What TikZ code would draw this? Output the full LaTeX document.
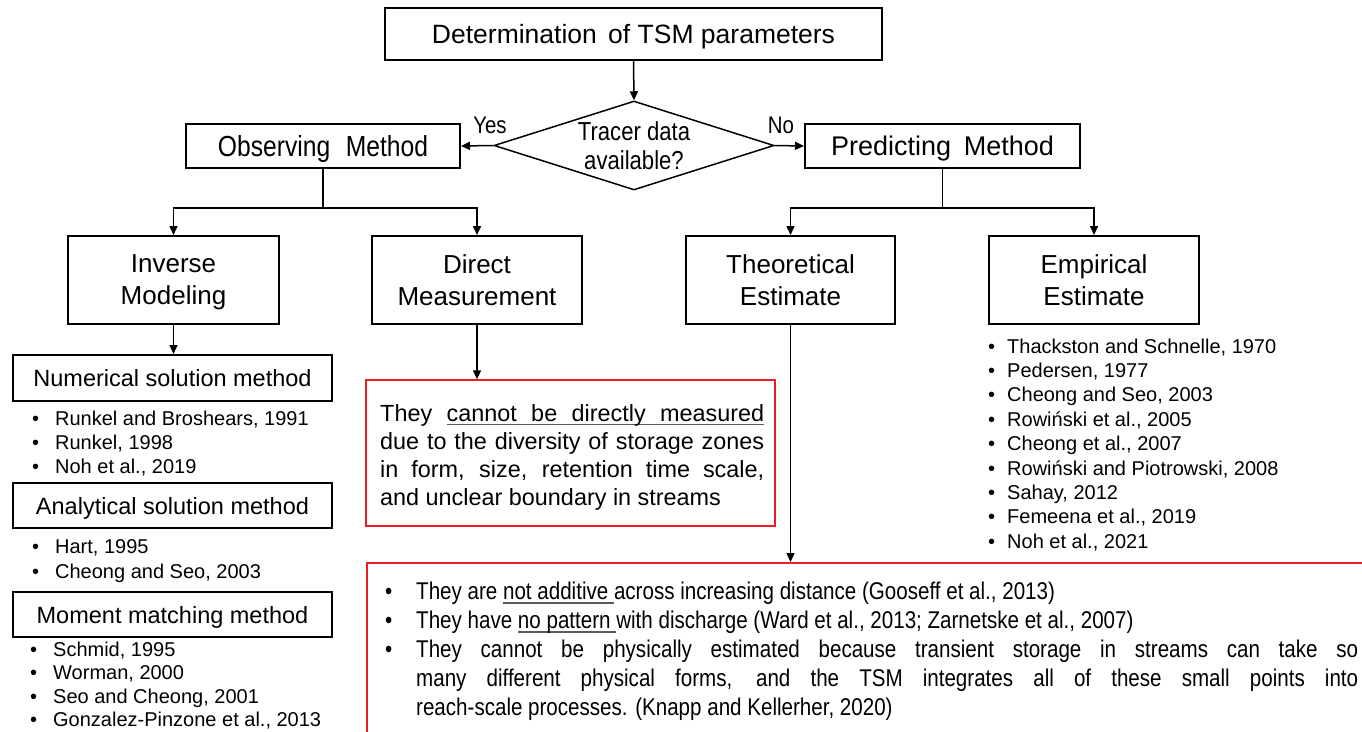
\documentclass[tikz,border=0pt]{standalone}
\usepackage{fontspec}
\setmainfont{Liberation Sans}
\newfontfamily\narrowfont[FakeStretch=0.85]{Liberation Sans}
\usetikzlibrary{arrows.meta,shapes.geometric}
\definecolor{boxred}{RGB}{236,28,36}
\definecolor{ulgray}{RGB}{90,90,90}
\newcommand{\fsz}[2]{\fontsize{#1}{#2}\selectfont}
\newcommand{\nd}[1]{\raisebox{0pt}[\height][0pt]{#1}}
\newsavebox{\myulbox}
\newcommand{\ulw}[1]{\sbox{\myulbox}{#1}\rlap{\color{ulgray}\vrule height -2.6pt depth 3.8pt width \wd\myulbox}\usebox{\myulbox}}
\newcommand{\uls}{{\color{ulgray}\leaders\hrule height -2.6pt depth 3.8pt\hskip\fontdimen2\font plus\fontdimen3\font minus\fontdimen4\font\relax}}

\begin{document}
\begin{tikzpicture}[x=1pt,y=-1pt,
  box/.style={draw, line width=2pt, inner sep=0pt, align=center},
  redbox/.style={draw=boxred, line width=1.5pt, inner sep=0pt},
  arr/.style={line width=1.5pt, -{Triangle[length=9pt,width=8pt]}},
  ln/.style={line width=1.5pt},
  item/.style={inner sep=0pt, anchor=base west, font=\fsz{20}{24}},
  lbl/.style={inner sep=0pt, font=\narrowfont\fsz{24}{28}},
]
\useasboundingbox (0,0) rectangle (1362,731);

% main boxes
\node[box, minimum width=497pt, minimum height=52pt, font=\fsz{26.5}{32}] (top) at (633.5,34) {\nd{Determination\hspace{0.15em} of TSM parameters}};
\node[draw, line width=1.5pt, diamond, minimum width=280pt, minimum height=89pt, inner sep=0pt] (dia) at (634,145.5) {};
\node[inner sep=0pt, align=center, font=\narrowfont\fsz{26}{29}] (diat) at (dia) {Tracer data\\available?};
\node[box, minimum width=274pt, minimum height=44pt, font=\narrowfont\fsz{29}{32}] (obs) at (323,146) {\nd{Observing\hspace{0.3em} Method}};
\node[box, minimum width=275pt, minimum height=44pt, font=\fsz{27}{32}] (pred) at (942.5,146) {\nd{Predicting\hspace{0.2em} Method}};
\node[lbl] (yes) at (490,125) {Yes};
\node[lbl] (no) at (781,125) {No};

\node[box, minimum width=211pt, minimum height=88pt, font=\fsz{26}{32}] (inv) at (173.5,280) {Inverse\\\nd{Modeling}};
\node[box, minimum width=210pt, minimum height=88pt, font=\fsz{26}{32}] (dir) at (477,280) {Direct\\Measurement};
\node[box, minimum width=209pt, minimum height=88pt, font=\fsz{26}{32}] (theo) at (790.5,280) {Theoretical\\Estimate};
\node[box, minimum width=210pt, minimum height=88pt, font=\fsz{26}{32}] (emp) at (1094,280) {Empirical\\Estimate};

% left method boxes
\node[box, minimum width=319pt, minimum height=46pt, font=\fsz{23.5}{28}] (num) at (172.5,378) {Numerical solution method};
\node[box, minimum width=319pt, minimum height=45pt, font=\fsz{23.5}{28}] (ana) at (172.5,505.5) {\nd{Analytical solution method}};
\node[box, minimum width=319pt, minimum height=45pt, font=\fsz{23.5}{28}] (mom) at (172.5,614.5) {\nd{Moment matching method}};

% lists
\foreach \t [count=\i] in {{Runkel and Broshears, 1991},{Runkel, 1998},{Noh et al., 2019}}
  \node[item] (nl\i) at (32,{425.2+(\i-1)*24}) {\makebox[23pt][l]{•}\t};
\foreach \t [count=\i] in {{Hart, 1995},{Cheong and Seo, 2003}}
  \node[item] (al\i) at (32,{553.2+(\i-1)*25}) {\makebox[23pt][l]{•}\t};
\foreach \t [count=\i] in {{Schmid, 1995},{Worman, 2000},{Seo and Cheong, 2001},{Gonzalez-Pinzone et al., 2013}}
  \node[item] (ml\i) at (30,{656.2+(\i-1)*23.5}) {\makebox[23pt][l]{•}\t};
\foreach \t [count=\i] in {{Thackston and Schnelle, 1970},{Pedersen, 1977},{Cheong and Seo, 2003},{Rowiński et al., 2005},{Cheong et al., 2007},{Rowiński and Piotrowski, 2008},{Sahay, 2012},{Femeena et al., 2019},{Noh et al., 2021}}
  \node[item] (el\i) at (988,{353.2+(\i-1)*24.375}) {\makebox[19pt][l]{•}\t};

% red boxes
\node[redbox, minimum width=409pt, minimum height=146pt] (red1) at (570.5,453) {};
\node[anchor=base west, inner sep=0pt, text width=384pt, align=justify, font=\fsz{23.4}{28}] (red1t) at (380,421.4)
  {They \ulw{cannot}\uls\ulw{be}\uls\ulw{directly}\uls\ulw{measured}\linebreak due to the diversity of storage zones\linebreak in form, size, retention time scale,\linebreak and unclear boundary in streams};

\node[redbox, anchor=north west, minimum width=1030pt, minimum height=200pt] (bot) at (366,562) {};
\node[anchor=base west, inner sep=0pt, text width=973pt, align=justify, font=\narrowfont\fsz{24.2}{29}] (bott) at (385,599.8)
  {\noindent\hangindent=31pt\hangafter=1\makebox[31pt][l]{•}They are \ulw{not}\uls\ulw{additive}\uls across increasing distance (Gooseff et al., 2013)\par
   \noindent\hangindent=31pt\hangafter=1\makebox[31pt][l]{•}They have \ulw{no}\uls\ulw{pattern}\uls with discharge (Ward et al., 2013; Zarnetske et al., 2007)\par
   \noindent\hangindent=31pt\hangafter=1\makebox[31pt][l]{•}They cannot be physically estimated because transient storage in streams can take so\linebreak many different physical forms, and the TSM integrates all of these small points into\linebreak reach-scale processes. (Knapp and Kellerher, 2020)\par};

% connectors
\draw[arr] (top.south) -- (dia.north);
\draw[arr] (dia.west) -- (obs.east);
\draw[arr] (dia.east) -- (pred.west);
\coordinate (jo) at (323,208);
\coordinate (jp) at (942.5,208);
\draw[ln] (obs.south) -- (jo);
\draw[arr] (jo) -| (inv.north);
\draw[arr] (jo) -| (dir.north);
\draw[ln] (pred.south) -- (jp);
\draw[arr] (jp) -| (theo.north);
\draw[arr] (jp) -| (emp.north);
\draw[arr] (inv.south) -- (inv.south |- num.north);
\draw[arr] (dir.south) -- (dir.south |- red1.north);
\draw[arr] (theo.south) -- (theo.south |- bot.north);
\end{tikzpicture}
\end{document}
